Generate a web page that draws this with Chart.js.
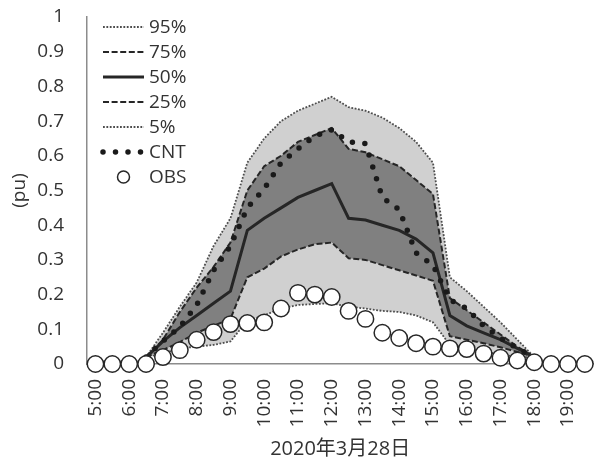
<!DOCTYPE html>
<html>
<head>
<meta charset="utf-8">
<script src="https://cdn.jsdelivr.net/npm/chart.js@4.4.1/dist/chart.umd.min.js"></script>
<style>
  html, body { margin: 0; padding: 0; background: #ffffff; }
  #wrap { width: 603px; height: 461px; }
</style>
</head>
<body>
<div id="wrap"><canvas id="c" width="603" height="461"></canvas></div>
<script>
// Half-hourly time slots, 5:00 to 19:30
const times = [
  '5:00','5:30','6:00','6:30','7:00','7:30','8:00','8:30','9:00','9:30',
  '10:00','10:30','11:00','11:30','12:00','12:30','13:00','13:30','14:00','14:30',
  '15:00','15:30','16:00','16:30','17:00','17:30','18:00','18:30','19:00','19:30'
];

// Forecast percentiles (pu)
const p95 = [null, null, null, 0.02, 0.09, 0.165, 0.235, 0.34, 0.42, 0.58, 0.65, 0.70, 0.73, 0.75, 0.77,
             0.74, 0.73, 0.71, 0.68, 0.64, 0.58, 0.25, 0.21, 0.165, 0.12, 0.07, 0.02, null, null, null];
const p75 = [null, null, null, 0.02, 0.07, 0.15, 0.22, 0.28, 0.35, 0.50, 0.57, 0.60, 0.64, 0.66, 0.68,
             0.62, 0.61, 0.59, 0.57, 0.53, 0.49, 0.19, 0.155, 0.12, 0.085, 0.05, 0.02, null, null, null];
const p50 = [null, null, null, 0.02, 0.065, 0.105, 0.14, 0.175, 0.21, 0.385, 0.42, 0.45, 0.48, 0.50, 0.52,
             0.42, 0.415, 0.40, 0.385, 0.36, 0.32, 0.14, 0.11, 0.09, 0.07, 0.045, 0.02, null, null, null];
const p25 = [null, null, null, 0.02, 0.04, 0.063, 0.09, 0.11, 0.13, 0.25, 0.275, 0.31, 0.33, 0.345, 0.35,
             0.305, 0.30, 0.285, 0.27, 0.255, 0.24, 0.08, 0.07, 0.06, 0.048, 0.035, 0.02, null, null, null];
const p5  = [null, null, null, 0.02, 0.03, 0.045, 0.05, 0.055, 0.065, 0.125, 0.14, 0.16, 0.17, 0.173, 0.175,
             0.165, 0.16, 0.153, 0.15, 0.14, 0.12, 0.055, 0.045, 0.035, 0.028, 0.02, 0.02, null, null, null];

// Point forecast and observation (pu)
const cnt = [null, null, null, 0.02, 0.066, 0.107, 0.17, 0.27, 0.34, 0.45, 0.505, 0.58, 0.62, 0.657, 0.675,
             0.64, 0.635, 0.48, 0.445, 0.32, 0.285, 0.185, 0.16, 0.11, 0.075, 0.045, 0.02, null, null, null];
const obs = [0, 0, 0, 0, 0.02, 0.04, 0.07, 0.092, 0.115, 0.118, 0.12, 0.16, 0.205, 0.2, 0.193,
             0.153, 0.13, 0.09, 0.075, 0.06, 0.05, 0.045, 0.043, 0.03, 0.018, 0.01, 0.005, 0, 0, 0];

const yTicks = [0, 0.1, 0.2, 0.3, 0.4, 0.5, 0.6, 0.7, 0.8, 0.9, 1];
const xTitle = '2020年3月28日';
const yTitle = '(pu)';

const FONT = "'Open Sans', 'Noto Sans CJK JP', sans-serif";
const TEXT = '#333333';
const AXIS = '#8c8c8c';
const LIGHT = '#d0d0d0';
const DARK = '#808080';
const INK = '#262626';

// Legend drawn inside the plot area, top-left
const insideLegend = {
  id: 'insideLegend',
  afterDatasetsDraw(chart) {
    const { ctx, chartArea } = chart;
    const x0 = chartArea.left + 16;
    const x1 = chartArea.left + 57;
    const tx = chartArea.left + 62;
    let y = chartArea.top + 10;
    ctx.save();
    ctx.font = '19px ' + FONT;
    ctx.textBaseline = 'middle';
    ctx.textAlign = 'left';
    chart.data.datasets.forEach(ds => {
      if (ds.showLine === false) {
        ctx.setLineDash([]);
        ctx.beginPath();
        ctx.arc((x0 + x1) / 2, y, 6, 0, Math.PI * 2);
        ctx.fillStyle = ds.pointBackgroundColor;
        ctx.fill();
        ctx.lineWidth = ds.pointBorderWidth;
        ctx.strokeStyle = ds.pointBorderColor;
        ctx.stroke();
      } else {
        ctx.beginPath();
        ctx.setLineDash(ds.borderDash || []);
        ctx.lineCap = ds.borderCapStyle || 'butt';
        ctx.lineWidth = ds.borderWidth;
        ctx.strokeStyle = ds.borderColor;
        ctx.moveTo(x0, y);
        ctx.lineTo(x1, y);
        ctx.stroke();
      }
      ctx.setLineDash([]);
      ctx.fillStyle = TEXT;
      ctx.fillText(ds.label, tx, y + 1);
      y += 25;
    });
    ctx.restore();
  }
};

function band(label, data, style, extra) {
  return Object.assign({
    label, data,
    pointRadius: 0,
    tension: 0,
    fill: false,
    borderColor: style.color,
    borderWidth: style.width,
    borderDash: style.dash,
    borderCapStyle: style.cap || 'butt'
  }, extra || {});
}

const dotted = { color: '#4d4d4d', width: 1.8, dash: [1.8, 1.6] };
const dashed = { color: INK, width: 2, dash: [6, 2.6] };
const solid  = { color: INK, width: 3, dash: [] };

const datasets = [
  band('95%', p95, dotted, { fill: { target: 4 }, backgroundColor: LIGHT, order: 6 }),
  band('75%', p75, dashed, { fill: { target: 3 }, backgroundColor: DARK, order: 4 }),
  band('50%', p50, solid, { order: 2 }),
  band('25%', p25, dashed, { order: 3 }),
  band('5%',  p5,  dotted, { order: 5 }),
  band('CNT', cnt, { color: '#1a1a1a', width: 5.5, dash: [0, 12.5], cap: 'round' }, { order: 1 }),
  {
    label: 'OBS', data: obs, showLine: false, order: 0, clip: false,
    pointRadius: 8.2, pointHoverRadius: 8.2,
    pointBackgroundColor: '#ffffff', pointBorderColor: INK, pointBorderWidth: 1.5
  }
];

new Chart(document.getElementById('c'), {
  type: 'line',
  data: { labels: times, datasets },
  plugins: [insideLegend],
  options: {
    responsive: false,
    animation: false,
    events: [],
    layout: { padding: { top: 17, right: 2, left: 0, bottom: 0 } },
    plugins: { legend: { display: false }, tooltip: { enabled: false } },
    scales: {
      x: {
        type: 'category',
        offset: true,
        grid: { display: false, drawTicks: false },
        border: { display: true, color: AXIS, width: 1.5 },
        ticks: {
          autoSkip: false,
          maxRotation: 90, minRotation: 90,
          padding: 15,
          color: TEXT,
          font: { family: FONT, size: 19 },
          callback(v, i) { const t = times[i]; return t.endsWith(':00') ? t : ''; }
        },
        title: { display: true, text: xTitle, color: TEXT, font: { family: FONT, size: 20 }, padding: { top: 0, bottom: 0 } },
        afterFit(scale) {
          scale.height = 97;
          scale.paddingLeft = 0;
          scale.paddingRight = 0;
        }
      },
      y: {
        min: 0, max: 1,
        afterBuildTicks(scale) { scale.ticks = yTicks.map(v => ({ value: v })); },
        grid: { display: false, drawTicks: false },
        border: { display: true, color: AXIS, width: 1.5 },
        ticks: {
          padding: 23,
          color: TEXT,
          font: { family: FONT, size: 19 },
          callback(v) { return String(Math.round(v * 10) / 10); }
        },
        title: { display: true, text: yTitle, color: TEXT, font: { family: FONT, size: 19 }, padding: { top: 8, bottom: 0 } },
        afterFit(scale) {
          scale.width = 87;
          scale.paddingTop = 0;
          scale.paddingBottom = 0;
        }
      }
    }
  }
});
</script>
</body>
</html>
